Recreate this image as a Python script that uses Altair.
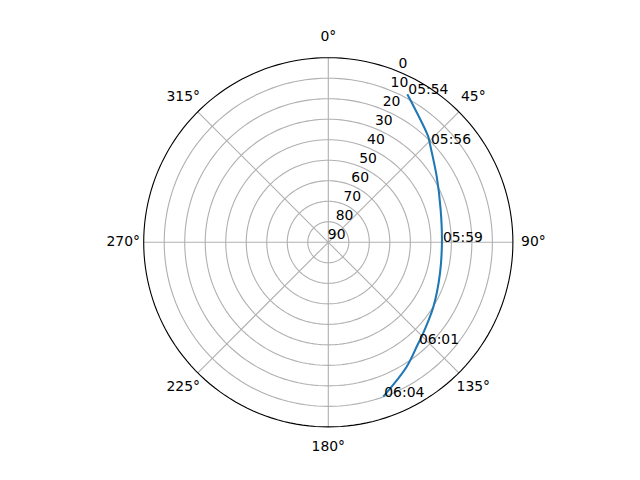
import altair as alt
import pandas as pd

# ---- data ----
track_az = [28.1, 43.4, 46.0, 58.8, 74.0, 90.0, 105.5, 121.5, 135.3, 138.6, 147.8, 160.4]
track_el = [8.2, 19.1, 21.1, 28.2, 33.0, 34.6, 33.5, 29.9, 25.3, 23.9, 18.3, 10.1]

label_times = ["05:54", "05:56", "05:59", "06:01", "06:04"]
label_az = [28.1, 46.0, 90.0, 138.6, 160.4]
label_el = [8.2, 21.1, 34.6, 23.9, 10.1]

grid_el = [10, 20, 30, 40, 50, 60, 70, 80]          # elevation rings (grey)
outer_el = [0]                                       # outer frame (black)
spoke_angles = [0, 45, 90, 135, 180, 225, 270, 315]
spoke_labels = ["0°", "45°", "90°", "135°", "180°", "225°", "270°", "315°"]
r_ticks = [0, 10, 20, 30, 40, 50, 60, 70, 80, 90]     # elevation tick labels
r_label_angle = 22.5
circle_steps = list(range(0, 361, 2))                # angles used to trace a ring

# ---- layout ----
R = 184.6
W = 2 * R
FONT = "DejaVu Sans"
FS = 13.9
GRID = "#b0b0b0"
THIN = 1.11
THICK = 2.08

xs = alt.Scale(domain=[-90, 90], nice=False, zero=False)
ys = alt.Scale(domain=[-90, 90], nice=False, zero=False)

track = pd.DataFrame({"i": range(len(track_az)), "az": track_az, "el": track_el})
labels = pd.DataFrame({"t": label_times, "az": label_az, "el": label_el})
rings = pd.DataFrame([{"el": e, "az": a} for e in grid_el for a in circle_steps])
outer = pd.DataFrame([{"el": e, "az": a} for e in outer_el for a in circle_steps])
spokes = pd.DataFrame({"a": spoke_angles, "lab": spoke_labels})
rtick = pd.DataFrame({"el": r_ticks, "lab": [str(v) for v in r_ticks], "az": [r_label_angle] * len(r_ticks)})

xy = dict(
    x="(90 - datum.el) * sin(datum.az * PI / 180)",
    y="(90 - datum.el) * cos(datum.az * PI / 180)",
)
X = alt.X("x:Q", scale=xs, axis=None)
Y = alt.Y("y:Q", scale=ys, axis=None)

ring_layer = alt.Chart(rings).transform_calculate(**xy).mark_line(
    color=GRID, strokeWidth=THIN
).encode(x=X, y=Y, detail="el:N", order="az:Q")

spoke_layer = alt.Chart(spokes).transform_calculate(
    x0="0", y0="0",
    x1="90 * sin(datum.a * PI / 180)", y1="90 * cos(datum.a * PI / 180)",
).mark_rule(color=GRID, strokeWidth=THIN).encode(
    x=alt.X("x0:Q", scale=xs, axis=None),
    y=alt.Y("y0:Q", scale=ys, axis=None),
    x2="x1:Q",
    y2="y1:Q",
)

outer_layer = alt.Chart(outer).transform_calculate(**xy).mark_line(
    color="black", strokeWidth=THIN
).encode(x=X, y=Y, order="az:Q")

spoke_text = alt.Chart(spokes).transform_calculate(
    x="100 * sin(datum.a * PI / 180)", y="100 * cos(datum.a * PI / 180)"
).mark_text(font=FONT, fontSize=FS, align="center", baseline="middle", color="black").encode(
    x=X, y=Y, text="lab:N",
)

rtick_text = alt.Chart(rtick).transform_calculate(**xy).mark_text(
    font=FONT, fontSize=FS, align="left", baseline="middle", dx=-0.5, dy=-7.5, color="black"
).encode(x=X, y=Y, text="lab:N")

line_layer = alt.Chart(track).transform_calculate(**xy).mark_line(
    color="#1f77b4", strokeWidth=THICK, interpolate="catmull-rom"
).encode(x=X, y=Y, order="i:Q")

time_text = alt.Chart(labels).transform_calculate(**xy).mark_text(
    font=FONT, fontSize=FS, align="left", baseline="alphabetic", dx=1, color="black"
).encode(x=X, y=Y, text="t:N")

left = 328.3 - R - 8
top = 242.3 - R - 8
chart = alt.layer(
    ring_layer, spoke_layer, outer_layer, spoke_text, rtick_text, line_layer, time_text
).properties(
    width=W, height=W,
    autosize=alt.AutoSizeParams(type="none"),
    padding={"left": left, "top": top, "right": 624 - left - W, "bottom": 464 - top - W},
    background="white",
).configure_view(stroke=None)

chart.save("out.html", embed_options={"renderer": "svg", "actions": False})
